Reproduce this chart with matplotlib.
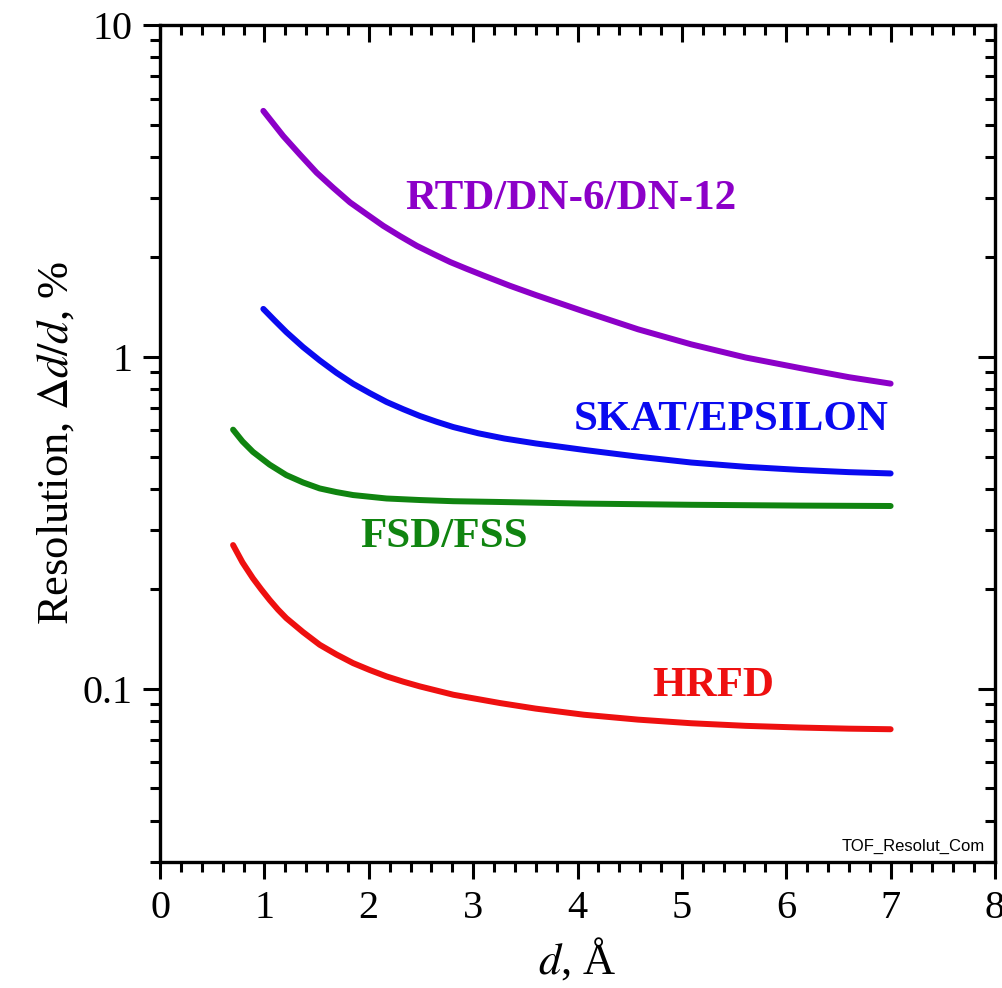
import matplotlib
matplotlib.use("Agg")
import matplotlib.pyplot as plt
from matplotlib.ticker import MultipleLocator, FixedLocator, LogLocator, NullFormatter

plt.rcParams["font.family"] = ["Liberation Serif", "DejaVu Serif"]
plt.rcParams["mathtext.fontset"] = "stix"

# curves (d in angstrom, resolution in %)
d_rtd = [0.99, 1.18, 1.34, 1.50, 1.66, 1.82, 1.98, 2.14, 2.30, 2.46, 2.62, 2.78, 2.94, 3.10, 3.35,
         3.60, 4.06, 4.58, 5.09, 5.61, 6.13, 6.60, 7.0]
r_rtd = [5.51, 4.63, 4.07, 3.59, 3.23, 2.92, 2.69, 2.48, 2.31, 2.16, 2.04, 1.93, 1.84, 1.757, 1.638,
         1.535, 1.37, 1.21, 1.09, 0.995, 0.925, 0.868, 0.83]

d_skat = [0.99, 1.10, 1.21, 1.37, 1.53, 1.69, 1.85, 2.01, 2.17, 2.33, 2.49, 2.65, 2.81, 3.05, 3.30,
          3.60, 4.06, 4.58, 5.09, 5.61, 6.13, 6.60, 7.0]
r_skat = [1.394, 1.285, 1.187, 1.07, 0.975, 0.895, 0.829, 0.777, 0.731, 0.695, 0.663, 0.637, 0.614,
          0.588, 0.567, 0.548, 0.524, 0.500, 0.480, 0.466, 0.456, 0.449, 0.445]

d_fsd = [0.70, 0.79, 0.89, 1.05, 1.21, 1.37, 1.53, 1.69, 1.85, 2.17, 2.49, 2.81, 3.26,
         4.06, 5.09, 6.13, 7.0]
r_fsd = [0.603, 0.556, 0.517, 0.473, 0.440, 0.418, 0.401, 0.391, 0.383, 0.374, 0.370, 0.367, 0.365,
         0.361, 0.358, 0.356, 0.355]

d_hrfd = [0.70, 0.79, 0.89, 0.97, 1.05, 1.13, 1.21, 1.37, 1.53, 1.69, 1.85, 2.01, 2.17, 2.33, 2.49,
          2.81, 3.26, 3.60, 4.06, 4.58, 5.09, 5.61, 6.13, 6.60, 7.0]
r_hrfd = [0.2707, 0.240, 0.215, 0.199, 0.185, 0.173, 0.163, 0.148, 0.1355, 0.1267, 0.1193, 0.1137,
          0.1088, 0.1049, 0.1015, 0.0958, 0.0904, 0.0870, 0.0834, 0.0806, 0.0786, 0.0772, 0.0763,
          0.0757, 0.0754]

names = ["RTD/DN-6/DN-12", "SKAT/EPSILON", "FSD/FSS", "HRFD"]
colors = ["#8C00C8", "#0A0AF0", "#108410", "#EE1010"]
# label anchors (left x, centre y) in data units
label_x = [2.35, 3.96, 1.92, 4.72]
label_y = [2.99, 0.646, 0.287, 0.1018]

fig = plt.figure(figsize=(10.02, 9.88), dpi=100)
ax = fig.add_axes([0.1597, 0.1275, 0.9930 - 0.1597, 0.9747 - 0.1275])

curves = [(d_rtd, r_rtd), (d_skat, r_skat), (d_fsd, r_fsd), (d_hrfd, r_hrfd)]
for (dx, ry), c in zip(curves, colors):
    ax.plot(dx, ry, color=c, lw=4.3, solid_capstyle="round", solid_joinstyle="round")

for name, c, lx, ly in zip(names, colors, label_x, label_y):
    ax.text(lx, ly, name, color=c, fontsize=31, fontweight="bold", ha="left", va="center")

ax.text(7.9, 0.0335, "TOF_Resolut_Com", fontsize=12, family="Liberation Sans", ha="right", va="center")

ax.set_yscale("log")
ax.set_xlim(0, 8)
ax.set_ylim(0.03, 10)

ax.xaxis.set_major_locator(MultipleLocator(1))
ax.xaxis.set_minor_locator(MultipleLocator(0.2))
ax.yaxis.set_major_locator(FixedLocator([0.1, 1, 10]))
ax.set_yticklabels(["0.1", "1", "10"])
ax.yaxis.set_minor_locator(LogLocator(base=10, subs=[2, 3, 4, 5, 6, 7, 8, 9]))
ax.yaxis.set_minor_formatter(NullFormatter())

ax.tick_params(which="major", direction="out", length=12, width=2.2, labelsize=29, pad=8)
ax.tick_params(which="minor", direction="out", length=7, width=2.2)
for s in ax.spines.values():
    s.set_linewidth(2.4)

# ticks on top / right point inward
axt = ax.twiny()
axt.set_xlim(0, 8)
axt.xaxis.set_major_locator(MultipleLocator(1))
axt.xaxis.set_minor_locator(MultipleLocator(0.2))
axt.tick_params(which="major", direction="in", length=12, width=2.2, labeltop=False)
axt.tick_params(which="minor", direction="in", length=7, width=2.2)

axr = ax.twinx()
axr.set_yscale("log")
axr.set_ylim(0.03, 10)
axr.yaxis.set_major_locator(FixedLocator([0.1, 1, 10]))
axr.yaxis.set_minor_locator(LogLocator(base=10, subs=[2, 3, 4, 5, 6, 7, 8, 9]))
axr.tick_params(which="major", direction="in", length=12, width=2.2, labelright=False)
axr.tick_params(which="minor", direction="in", length=7, width=2.2, labelright=False)
axr.yaxis.set_minor_formatter(NullFormatter())

ax.set_xlabel(r"$d$, Å", fontsize=32, labelpad=6)
ax.set_ylabel(r"Resolution, $\Delta d/d$, %", fontsize=32, labelpad=4)

fig.savefig("out.png", dpi=100)
